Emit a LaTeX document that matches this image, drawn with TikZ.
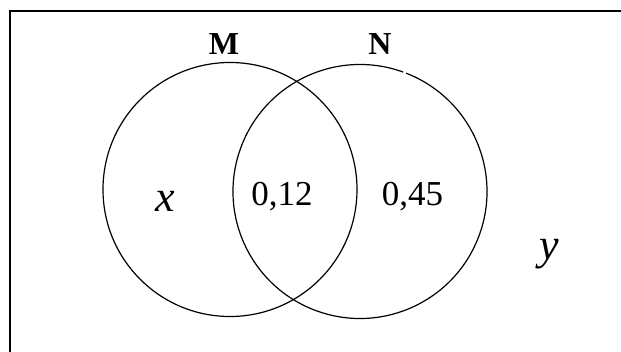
\documentclass[tikz,border=0pt]{standalone}
\usepackage{fontspec}
\setmainfont{Liberation Serif}
\usepackage{tikz}
\tikzset{
  setname/.style={font=\fontsize{32}{36}\selectfont\bfseries, anchor=base, inner sep=0pt},
  val/.style={font=\fontsize{35}{40}\selectfont, anchor=base, inner sep=0pt},
  unknown/.style={font=\fontsize{44}{50}\selectfont\itshape, anchor=base, inner sep=0pt},
  venn/.style={line width=1.2pt},
  frame/.style={line width=1.4pt},
}

\begin{document}
\begin{tikzpicture}[x=1pt, y=-1pt]
\useasboundingbox (0,0) rectangle (621,352);
% universe (only top and left sides show)
\draw[frame] (10,352) -- (10,11) -- (621,11);
% the two sets
\coordinate (cM) at (230,189.5);
\coordinate (cN) at (360,191.5);
\draw[venn] (cM) circle[radius=127];
\draw[venn] (cN) ++(-68.7:127) arc[start angle=-68.7, end angle=289.9, radius=127];
% labels
\node[setname] (M) at (224,55) {M};
\node[setname] (N) at (380,55) {N};
\node[unknown] (x) at (165.5,211.5) {x};
\node[val] (mn) at (282,206) {0,12};
\node[val] (nonly) at (412.5,206) {0,45};
\node[unknown] (y) at (549,260) {y};
\end{tikzpicture}
\end{document}
